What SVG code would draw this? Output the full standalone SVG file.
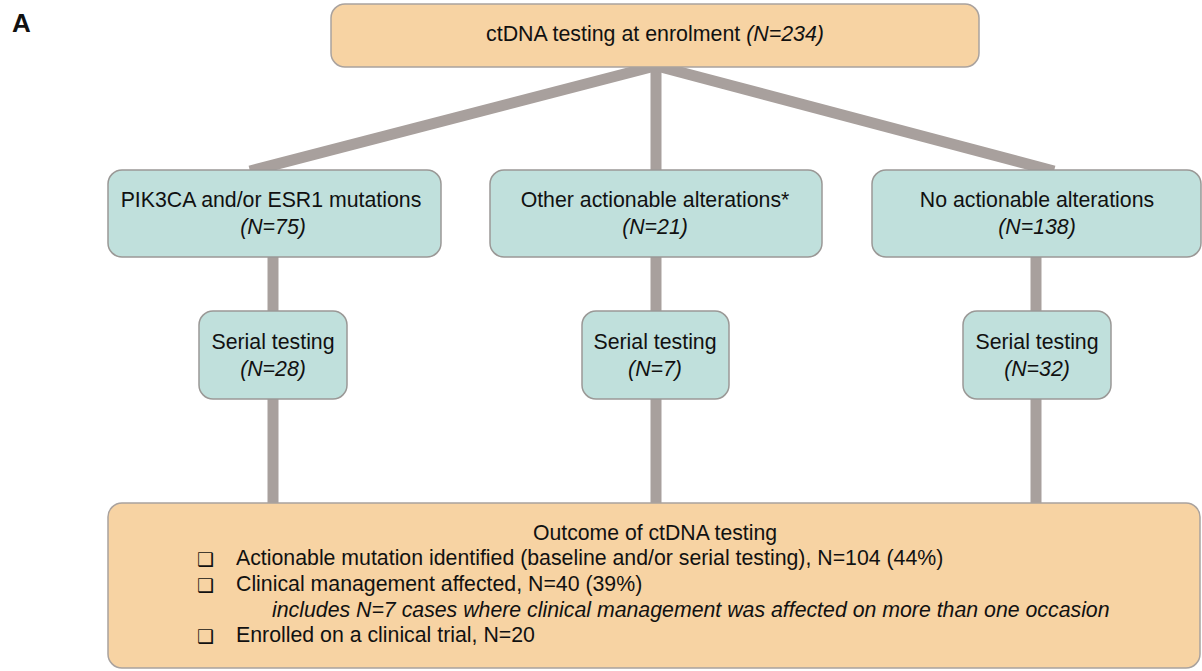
<svg xmlns="http://www.w3.org/2000/svg" width="1202" height="671" viewBox="0 0 1202 671">
<style>
.t{font-family:"Liberation Sans",Arial,sans-serif;font-size:21.3px;fill:#111;}
.i{font-style:italic;}
.c{text-anchor:middle;}
.orange{fill:#f7d3a3;stroke:#a9a29e;stroke-width:1.5;}
.teal{fill:#c0e0dc;stroke:#9a9896;stroke-width:1.5;}
.conn{stroke:#a8a09d;stroke-width:11;fill:none;}
.cb{font-family:"DejaVu Sans",sans-serif;font-size:19px;font-weight:bold;fill:#111;}
</style>
<rect width="1202" height="671" fill="#fff"/>
<text x="12" y="32" style="font-family:'Liberation Sans',Arial,sans-serif;font-size:26px;font-weight:bold;fill:#111">A</text>
<g id="connectors">
<line class="conn" x1="655" y1="66" x2="250" y2="171"/>
<line class="conn" x1="656" y1="66" x2="656" y2="171"/>
<line class="conn" x1="657" y1="66" x2="1054" y2="171"/>
<line class="conn" x1="273" y1="256" x2="273" y2="312"/>
<line class="conn" x1="273" y1="398" x2="273" y2="504"/>
<line class="conn" x1="656" y1="256" x2="656" y2="312"/>
<line class="conn" x1="656" y1="398" x2="656" y2="504"/>
<line class="conn" x1="1036" y1="256" x2="1036" y2="312"/>
<line class="conn" x1="1036" y1="398" x2="1036" y2="504"/>
</g>
<g id="top">
<rect class="orange" x="331" y="4" width="648" height="63" rx="14"/>
<text class="t" x="486" y="41" textLength="338" lengthAdjust="spacingAndGlyphs">ctDNA testing at enrolment <tspan class="i">(N=234)</tspan></text>
</g>
<g id="pik3ca">
<rect class="teal" x="108" y="170" width="333" height="87" rx="14"/>
<text class="t c" x="271" y="207">PIK3CA and/or ESR1 mutations</text>
<text class="t c i" x="273" y="234">(N=75)</text>
</g>
<g id="other">
<rect class="teal" x="490" y="170" width="332" height="87" rx="14"/>
<text class="t c" x="655" y="207">Other actionable alterations*</text>
<text class="t c i" x="655" y="234">(N=21)</text>
</g>
<g id="none">
<rect class="teal" x="872" y="170" width="329" height="87" rx="14"/>
<text class="t c" x="1037" y="207">No actionable alterations</text>
<text class="t c i" x="1037" y="234">(N=138)</text>
</g>
<g id="serial1">
<rect class="teal" x="199" y="311" width="148" height="88" rx="14"/>
<text class="t c" x="273" y="349">Serial testing</text>
<text class="t c i" x="273" y="376">(N=28)</text>
</g>
<g id="serial2">
<rect class="teal" x="582" y="311" width="147" height="88" rx="14"/>
<text class="t c" x="655" y="349">Serial testing</text>
<text class="t c i" x="655" y="376">(N=7)</text>
</g>
<g id="serial3">
<rect class="teal" x="963" y="311" width="148" height="88" rx="14"/>
<text class="t c" x="1037" y="349">Serial testing</text>
<text class="t c i" x="1037" y="376">(N=32)</text>
</g>
<g id="outcome">
<rect class="orange" x="108" y="503" width="1092" height="165" rx="14"/>
<text class="t" x="533" y="540" textLength="244" lengthAdjust="spacingAndGlyphs">Outcome of ctDNA testing</text>
<text class="cb" x="197" y="566">❑</text>
<text class="t" x="236" y="565">Actionable mutation identified (baseline and/or serial testing), N=104 (44%)</text>
<text class="cb" x="197" y="592">❑</text>
<text class="t" x="236" y="591">Clinical management affected, N=40 (39%)</text>
<text class="t i" x="272" y="617">includes N=7 cases where clinical management was affected on more than one occasion</text>
<text class="cb" x="197" y="643">❑</text>
<text class="t" x="236" y="642">Enrolled on a clinical trial, N=20</text>
</g>
</svg>
